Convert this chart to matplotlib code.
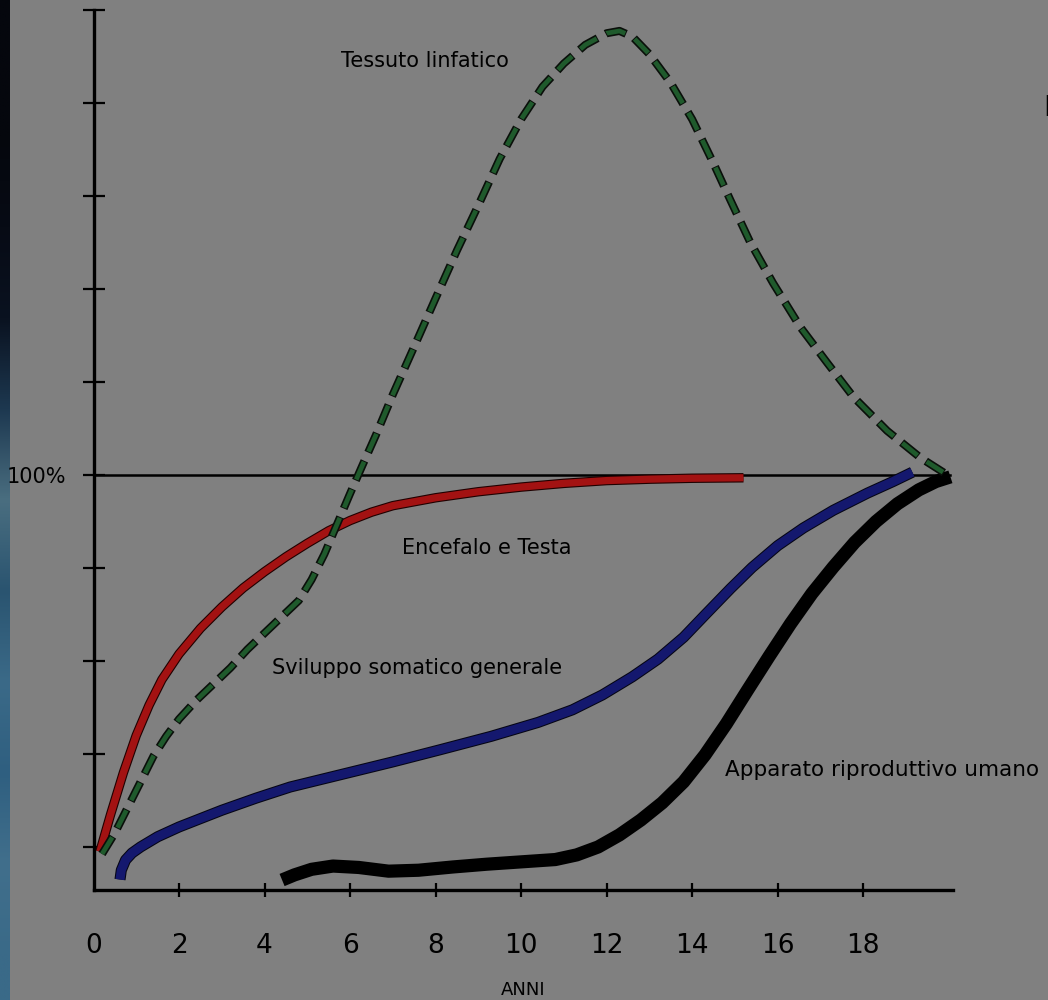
import matplotlib
matplotlib.use('Agg')
import matplotlib.pyplot as plt
import matplotlib.patheffects as pe
import numpy as np

# ages (years) and % of growth
red_x = [0.15, 0.4, 0.7, 1.0, 1.3, 1.6, 2.0, 2.5, 3.0, 3.5, 4.0, 4.5, 5.0, 5.5, 6.0, 6.5, 7.0, 8.0,
         9.0, 10.0, 11.0, 12.0, 13.0, 14.0, 15.2]
red_y = [19.0, 27.0, 36.0, 44.0, 50.5, 56.0, 61.5, 67.0, 71.6, 75.7, 79.2, 82.4, 85.3, 88.0, 90.2,
         92.0, 93.4, 95.1, 96.4, 97.4, 98.2, 98.8, 99.1, 99.3, 99.4]

green_x = [0.2, 0.5, 0.8, 1.1, 1.4, 1.7, 2.0, 2.4, 2.8, 3.2, 3.6, 4.0, 4.4, 4.8, 5.1, 5.4, 5.7,
           6.0, 6.3, 6.6, 7.0, 7.5, 8.0, 8.5, 9.0, 9.5, 10.0, 10.5, 11.0, 11.5, 12.0, 12.3, 12.6,
           13.0, 13.5, 14.0, 14.5, 14.9, 15.36, 15.89, 16.53, 17.16, 17.77, 18.56, 19.34, 20.04]
green_y = [18.5, 23.0, 28.5, 34.0, 39.5, 43.8, 47.5, 51.5, 55.0, 58.5, 62.5, 66.0, 69.5, 73.0, 77.5,
           83.0, 89.5, 96.0, 102.3, 108.5, 117.3, 127.6, 138.0, 148.3, 158.0, 168.0, 176.5, 183.5,
           188.5, 192.5, 195.0, 195.5, 194.3, 190.5, 184.3, 176.5, 167.0, 159.0, 150.0, 141.3,
           131.8, 124.1, 116.8, 109.5, 103.7, 99.6]

blue_x = [0.62, 0.65, 0.75, 0.9, 1.1, 1.5, 2.0, 2.5, 3.0, 3.8, 4.6, 5.8, 7.0, 8.1, 9.3, 10.4, 11.2,
          11.9, 12.6, 13.2, 13.8, 14.3, 14.9, 15.4, 16.0, 16.6, 17.3, 18.1, 18.7, 19.15]
blue_y = [13.0, 15.0, 17.2, 18.7, 20.0, 22.2, 24.3, 26.1, 27.9, 30.5, 32.9, 35.6, 38.3, 40.9, 43.8,
          46.8, 49.5, 52.7, 56.6, 60.4, 65.1, 69.9, 75.6, 80.1, 84.8, 88.6, 92.4, 96.1, 98.6, 100.6]

black_x = [4.41, 4.7, 5.1, 5.6, 6.2, 6.9, 7.6, 8.4, 9.2, 10.0, 10.8, 11.3, 11.8, 12.3, 12.8, 13.3,
           13.8, 14.3, 14.8, 15.3, 15.8, 16.3, 16.8, 17.3, 17.8, 18.3, 18.8, 19.3, 19.7, 20.04]
black_y = [12.9, 14.0, 15.2, 15.9, 15.6, 14.8, 15.0, 15.7, 16.3, 16.8, 17.3, 18.3, 20.0, 22.6, 25.8,
           29.5, 34.0, 39.8, 46.5, 53.8, 61.0, 68.0, 74.5, 80.2, 85.5, 90.0, 93.8, 96.8, 98.6, 99.6]

x_ticks = [0, 2, 4, 6, 8, 10, 12, 14, 16, 18]
y_ticks = [20, 40, 60, 80, 100, 120, 140, 160, 180, 200]

# scan background strip on the left edge (top -> bottom)
strip_colors = ['#05070d', '#05070d', '#070b15', '#0a1220', '#1d3850', '#4a6e80', '#2a5470',
                '#3b6a88', '#2f5f80', '#416f8c', '#3a6a88']

BG = '#808080'


def main():
    plt.rcParams['font.family'] = ['DejaVu Sans']
    plt.rcParams['lines.scale_dashes'] = False
    fig = plt.figure(figsize=(10.48, 10), dpi=100, facecolor=BG)

    strip = fig.add_axes([0, 0, 10 / 1048, 1])
    rgb = np.array([matplotlib.colors.to_rgb(c) for c in strip_colors])[:, None, :]
    strip.imshow(rgb, aspect='auto', interpolation='bilinear')
    strip.axis('off')

    ax = fig.add_axes([93.5 / 1048, 0.11, (953 - 93.5) / 1048, 0.88], facecolor=BG)
    ax.set_xlim(0, 20.1)
    ax.set_ylim(10.75, 200)

    ax.plot(red_x, red_y, color='#a31212', lw=5.2, solid_capstyle='butt',
            path_effects=[pe.Stroke(linewidth=6.8, foreground='#200000'), pe.Normal()], zorder=4)
    ax.plot(blue_x, blue_y, color='#14186e', lw=6.5, solid_capstyle='butt',
            path_effects=[pe.Stroke(linewidth=8, foreground='#050514'), pe.Normal()], zorder=4)
    ax.plot(black_x, black_y, color='black', lw=9.5, solid_capstyle='butt', zorder=4)
    ax.plot(green_x, green_y, color='#0a0f0a', lw=5.8, linestyle=(0.7, (15.4, 6.6)), zorder=5)
    ax.plot(green_x, green_y, color='#1f5a2c', lw=3.4, linestyle=(0, (14, 8)), zorder=6)

    ax.axhline(100, xmin=0, xmax=20.04 / 20.1, color='black', lw=1.8, zorder=3)

    for s in ['top', 'right']:
        ax.spines[s].set_visible(False)
    for s in ['left', 'bottom']:
        ax.spines[s].set_linewidth(2.4)
        ax.spines[s].set_color('black')

    ax.set_yticks(y_ticks)
    ax.set_yticklabels(['100%' if v == 100 else '' for v in y_ticks], fontsize=15)
    ax.tick_params(axis='y', direction='inout', length=16, width=1.6, pad=12, colors='black')
    ax.set_xticks(x_ticks)
    ax.set_xticklabels([str(v) for v in x_ticks], fontsize=19)
    ax.tick_params(axis='x', direction='inout', length=10, width=1.6, pad=26, colors='black')
    ax.xaxis.get_major_ticks()[0].tick1line.set_visible(False)
    ax.set_xlabel('ANNI', fontsize=13, labelpad=16)

    ax.text(7.76, 189, 'Tessuto linfatico', fontsize=15, ha='center', va='center')
    ax.text(9.2, 84.3, 'Encefalo e Testa', fontsize=15, ha='center', va='center')
    ax.text(7.57, 58.5, 'Sviluppo somatico generale', fontsize=15, ha='center', va='center')
    ax.text(14.77, 36.6, 'Apparato riproduttivo umano', fontsize=15.5, ha='left', va='center')
    fig.text(1043 / 1048, 1 - 108 / 1000, 'I', fontsize=20, ha='left', va='center')

    fig.savefig('out.png', dpi=100, facecolor=BG)


if __name__ == '__main__':
    main()
